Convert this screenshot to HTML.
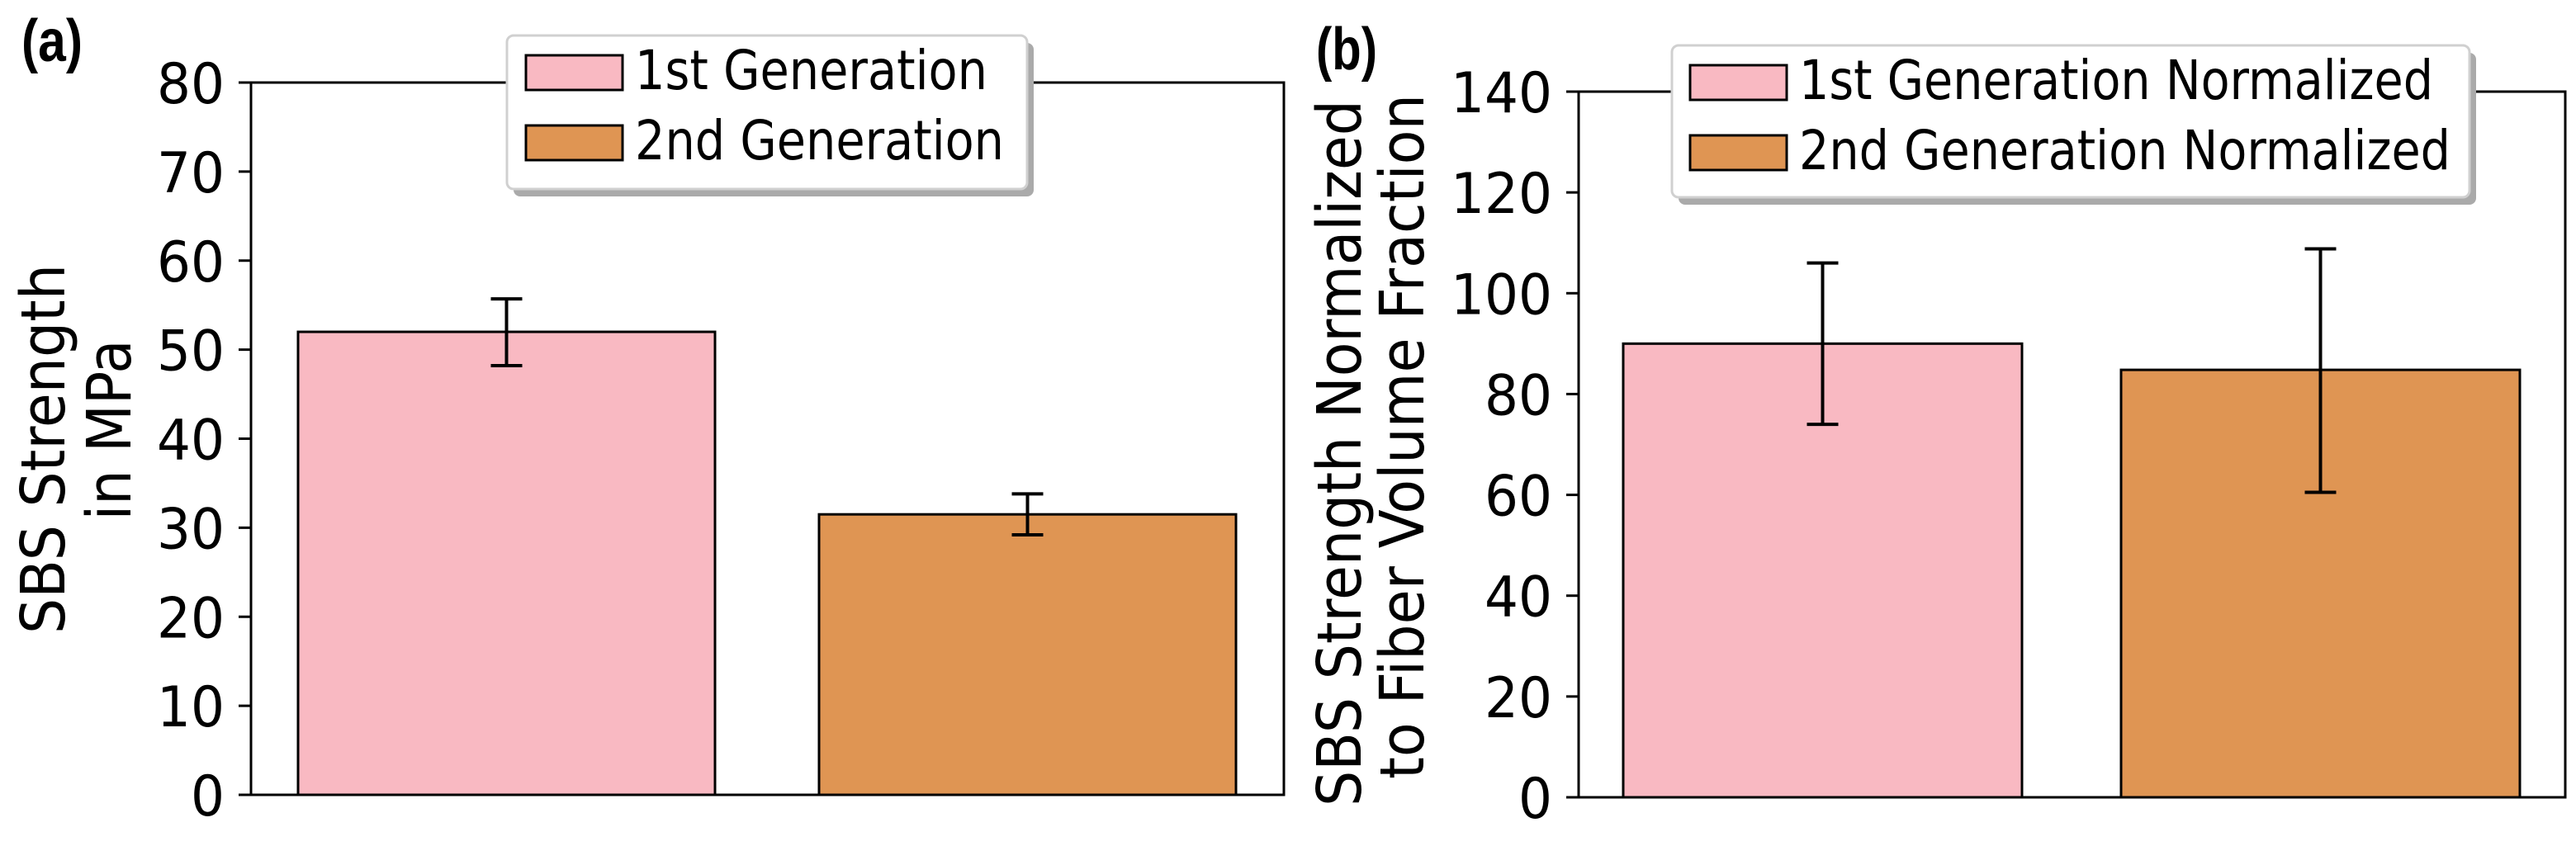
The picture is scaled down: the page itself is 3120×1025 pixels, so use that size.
<!DOCTYPE html>
<html><head><meta charset="utf-8"><style>
html,body{margin:0;padding:0;background:#fff;}
svg{display:block;font-family:"DejaVu Sans","Liberation Sans",sans-serif;}
</style></head><body>
<svg id="fig" width="3120" height="1025" viewBox="0 0 3120 1025" xmlns="http://www.w3.org/2000/svg"></svg>
<script>
const categories = ["1st Generation", "2nd Generation"];
const valuesA = [52, 31.5];
const errLowA = [48.2, 29.2];
const errHighA = [55.7, 33.8];
const ticksA = [0, 10, 20, 30, 40, 50, 60, 70, 80];
const legendA = ["1st Generation", "2nd Generation"];
const valuesB = [90, 84.8];
const errLowB = [74, 60.5];
const errHighB = [106, 108.8];
const ticksB = [0, 20, 40, 60, 80, 100, 120, 140];
const legendB = ["1st Generation Normalized", "2nd Generation Normalized"];
const colors = ["#f9b9c2", "#df9553"];

const NS = "http://www.w3.org/2000/svg";
const svg = document.getElementById("fig");
function mk(tag, attrs, parent, text) {
  const e = document.createElementNS(NS, tag);
  for (const k in attrs) e.setAttribute(k, attrs[k]);
  if (text !== undefined) e.textContent = text;
  (parent || svg).appendChild(e);
  return e;
}

function panel(cfg) {
  const g = mk("g", {});
  
  
  const y = v => cfg.y0 - (v - 0) / cfg.ymax * (cfg.y0 - cfg.y1);
  cfg.values.forEach((v, i) => {
    const r = mk("rect", {x: cfg.barX[i], y: y(v), width: cfg.barW, height: cfg.y0 - y(v), fill: colors[i], stroke: "#000", "stroke-width": 3}, g);
    
    
  });
  cfg.values.forEach((v, i) => {
    const cx = cfg.barX[i] + cfg.barW / 2;
    const eg = mk("g", {stroke: "#000", "stroke-width": 4}, g);
    
    
    mk("line", {x1: cx, x2: cx, y1: y(cfg.lo[i]), y2: y(cfg.hi[i])}, eg);
    mk("line", {x1: cx - 19, x2: cx + 19, y1: y(cfg.lo[i]), y2: y(cfg.lo[i])}, eg);
    mk("line", {x1: cx - 19, x2: cx + 19, y1: y(cfg.hi[i]), y2: y(cfg.hi[i])}, eg);
  });
  const fr = mk("rect", {x: cfg.x0, y: cfg.y1, width: cfg.x1 - cfg.x0, height: cfg.y0 - cfg.y1, fill: "none", stroke: "#000", "stroke-width": 3}, g);
  
  
  cfg.ticks.forEach(t => {
    mk("line", {x1: cfg.x0 - 15, x2: cfg.x0, y1: y(t), y2: y(t), stroke: "#000", "stroke-width": 3}, g);
    const s = String(t);
    const tl = mk("text", {x: cfg.x0 - 32, y: y(t) + 25, "text-anchor": "end", "font-size": 68, textLength: s.length * 41, lengthAdjust: "spacingAndGlyphs"}, g, s);
    
    
  });
  cfg.ylabel.forEach((ln, i) => {
    const t = mk("text", {transform: `translate(${cfg.ylx[i]},${cfg.yly[i]}) rotate(-90)`, "text-anchor": "middle", "font-size": 74, textLength: cfg.yll[i], lengthAdjust: "spacingAndGlyphs"}, g, ln);
    
    
  });
  const pl = mk("text", {x: cfg.plx, y: cfg.ply, "font-size": 72, "font-weight": "bold", textLength: 74, lengthAdjust: "spacingAndGlyphs", "font-family": "Liberation Sans, sans-serif"}, g, cfg.plabel);
  
  
  const L = cfg.leg;
  const lg = mk("g", {}, g);
  
  
  mk("rect", {x: L.x + 8, y: L.y + 9, width: L.w, height: L.h, rx: 8, fill: "#aaa"}, lg);
  mk("rect", {x: L.x, y: L.y, width: L.w, height: L.h, rx: 8, fill: "#fff", stroke: "#d0d0d0", "stroke-width": 3}, lg);
  cfg.legend.forEach((s, i) => {
    const ey = L.py[i];
    const it = mk("g", {}, lg);
    
    
    mk("rect", {x: L.px, y: ey, width: 117, height: 42, fill: colors[i], stroke: "#000", "stroke-width": 3}, it);
    mk("text", {x: L.px + 132, y: ey + 41, "font-size": 66, textLength: L.tl[i], lengthAdjust: "spacingAndGlyphs"}, it, s);
  });
}

panel({name: "panel-a", x0: 304, x1: 1555, y1: 100, y0: 963, ymax: 80,
  values: valuesA, lo: errLowA, hi: errHighA, ticks: ticksA,
  barX: [361, 992], barW: 505,
  ylabel: ["SBS Strength", "in MPa"], ylx: [78, 158], yly: [544, 521], yll: [448, 219],
  plabel: "(a)", plx: 26, ply: 74,
  legend: legendA,
  leg: {x: 614, y: 43, w: 630, h: 186, px: 637, py: [67, 152], tl: [427, 447]}
});
panel({name: "panel-b", x0: 1912, x1: 3107, y1: 111, y0: 966, ymax: 140,
  values: valuesB, lo: errLowB, hi: errHighB, ticks: ticksB,
  barX: [1966, 2569], barW: 483,
  ylabel: ["SBS Strength Normalized", "to Fiber Volume Fraction"], ylx: [1648, 1724], yly: [549, 529], yll: [856, 830],
  plabel: "(b)", plx: 1594, ply: 84,
  legend: legendB,
  leg: {x: 2025, y: 55, w: 966, h: 184, px: 2047, py: [79, 164], tl: [768, 789]}
});
</script>
</body></html>
